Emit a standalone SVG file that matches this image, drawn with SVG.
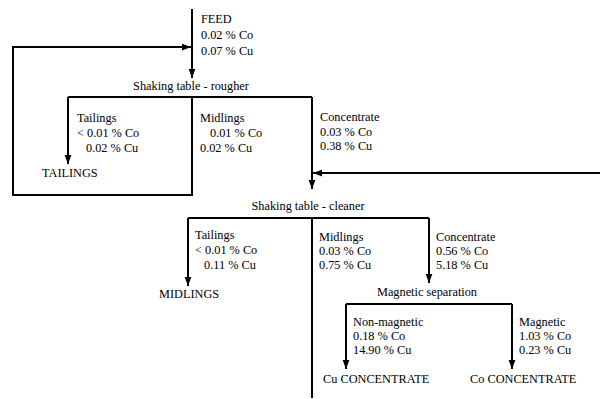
<svg xmlns="http://www.w3.org/2000/svg" width="600" height="399" viewBox="0 0 600 399">
<style>
text{font-family:"Liberation Serif","Times New Roman",serif;font-size:12.3px;fill:#000}
.c{stroke:#000;stroke-width:2;fill:none}
.a{marker-end:url(#ah)}
</style>
<defs>
<marker id="ah" markerUnits="userSpaceOnUse" markerWidth="9" markerHeight="13" refX="12" refY="4.5" orient="auto" viewBox="0 0 12 9">
<path d="M0,0 L12,4.5 L0,9 z" fill="#000"/>
</marker>
</defs>
<rect width="600" height="399" fill="#fff"/>
<g id="connectors">
<path class="c a" d="M192,9 V78"/>
<path class="c a" d="M192,97 V195 H13 V47 H191"/>
<path class="c" d="M68,97 H312"/>
<path class="c a" d="M68,97 V164"/>
<path class="c a" d="M312,97 V189"/>
<path class="c a" d="M600,173 H313"/>
<path class="c" d="M188,218 H429"/>
<path class="c a" d="M188,218 V286"/>
<path class="c a" d="M429,218 V283"/>
<path class="c" d="M312,218 V398"/>
<path class="c" d="M346,304 H512"/>
<path class="c a" d="M346,304 V369"/>
<path class="c a" d="M512,304 V369"/>
</g>
<g id="feed"><text x="201" y="23">FEED</text><text x="201" y="39">0.02 % Co</text><text x="201" y="55">0.07 % Cu</text></g>
<g id="rougher"><text x="191" y="90" text-anchor="middle">Shaking table - rougher</text></g>
<g id="rougher-tailings-label"><text x="77" y="122">Tailings</text><text x="77" y="137">&lt; 0.01 % Co</text><text x="86" y="152">0.02 % Cu</text></g>
<g id="tailings"><text x="42" y="177">TAILINGS</text></g>
<g id="rougher-midlings-label"><text x="200" y="122">Midlings</text><text x="210" y="137">0.01 % Co</text><text x="200" y="152">0.02 % Cu</text></g>
<g id="rougher-concentrate-label"><text x="320" y="121">Concentrate</text><text x="320" y="136">0.03 % Co</text><text x="320" y="150">0.38 % Cu</text></g>
<g id="cleaner"><text x="308" y="210" text-anchor="middle">Shaking table - cleaner</text></g>
<g id="cleaner-tailings-label"><text x="195" y="239">Tailings</text><text x="195" y="254">&lt; 0.01 % Co</text><text x="204" y="269">0.11 % Cu</text></g>
<g id="midlings"><text x="159" y="298">MIDLINGS</text></g>
<g id="cleaner-midlings-label"><text x="319" y="241">Midlings</text><text x="319" y="255">0.03 % Co</text><text x="319" y="269">0.75 % Cu</text></g>
<g id="cleaner-concentrate-label"><text x="436" y="241">Concentrate</text><text x="436" y="255">0.56 % Co</text><text x="436" y="269">5.18 % Cu</text></g>
<g id="magnetic-separation"><text x="427" y="296" text-anchor="middle">Magnetic separation</text></g>
<g id="nonmagnetic-label"><text x="353" y="326">Non-magnetic</text><text x="353" y="340">0.18 % Co</text><text x="353" y="354">14.90 % Cu</text></g>
<g id="magnetic-label"><text x="519" y="326">Magnetic</text><text x="519" y="340">1.03 % Co</text><text x="519" y="354">0.23 % Cu</text></g>
<g id="cu-concentrate"><text x="323" y="383">Cu CONCENTRATE</text></g>
<g id="co-concentrate"><text x="470" y="383">Co CONCENTRATE</text></g>
</svg>
